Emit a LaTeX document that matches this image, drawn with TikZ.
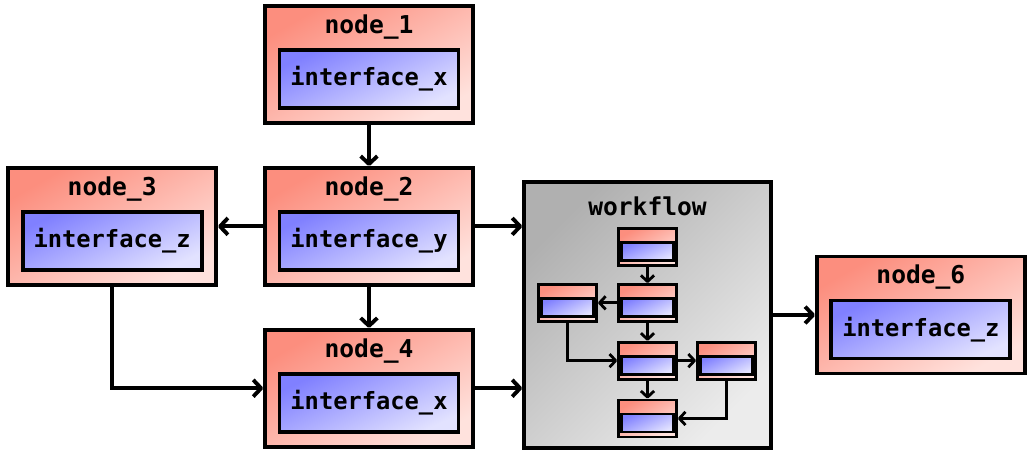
\documentclass[tikz,border=0pt]{standalone}
\usepackage{fontspec}
\setmonofont{DejaVu Sans Mono}
\usetikzlibrary{arrows.meta,positioning}
\definecolor{boxred}{RGB}{252,142,126}
\definecolor{boxpink}{RGB}{255,226,221}
\definecolor{ifblue}{RGB}{128,128,255}
\definecolor{iflight}{RGB}{226,226,255}
\definecolor{wfgray}{RGB}{176,176,176}
\definecolor{wflight}{RGB}{236,236,236}

\begin{document}
\begin{tikzpicture}[
  node distance = 0.82cm and 0.9cm,
  block/.style = {
    rectangle, draw=black, line width=2.2pt,
    top color=boxred, bottom color=boxpink, shading angle=30,
    minimum width=4.16cm, minimum height=2.34cm
  },
  iface/.style = {
    rectangle, draw=black, line width=2.2pt,
    top color=ifblue, bottom color=iflight, shading angle=25,
    minimum width=3.58cm, minimum height=1.16cm,
    font=\fontsize{13.5}{16}\selectfont\ttfamily\bfseries
  },
  title/.style = {font=\fontsize{14}{16}\selectfont\ttfamily\bfseries, inner sep=0pt},
  wfbox/.style = {
    rectangle, draw=black, line width=2.2pt,
    top color=wfgray, bottom color=wflight, shading angle=45,
    minimum width=4.94cm, minimum height=5.32cm
  },
  mini/.style = {
    rectangle, draw=black, line width=1.6pt,
    top color=boxred, bottom color=boxpink, shading angle=30,
    minimum width=1.16cm, minimum height=0.74cm
  },
  miniif/.style = {
    rectangle, draw=black, line width=1.6pt,
    top color=ifblue, bottom color=iflight, shading angle=25,
    minimum width=1.04cm, minimum height=0.36cm, inner sep=0pt
  },
  arr/.style = {-{Straight Barb[length=4.5pt,width=9.5pt,line join=round]}, line width=2.2pt},
  smallarr/.style = {-{Straight Barb[length=3.5pt,width=7.5pt,line join=round]}, line width=1.6pt}
]
  \useasboundingbox (0,0) rectangle (20.7,-9.14);

  % outer blocks
  \node[block] (n1) at (7.38,-1.29) {};
  \node[block, below=of n1] (n2) {};
  \node[block, left=of n2]  (n3) {};
  \node[block, below=of n2] (n4) {};
  \node[wfbox] (wf) at (12.95,-6.3) {};
  \node[block, right=0.84cm of wf] (n6) {};

  \node[title] (t1) at ([yshift=0.75cm]n1.center) {node\_1};
  \node[title] (t2) at ([yshift=0.75cm]n2.center) {node\_2};
  \node[title] (t3) at ([yshift=0.75cm]n3.center) {node\_3};
  \node[title] (t4) at ([yshift=0.75cm]n4.center) {node\_4};
  \node[title] (t6) at ([yshift=0.75cm]n6.center) {node\_6};
  \node[title] (tw) at ([yshift=2.18cm]wf.center) {workflow};

  \node[iface] (i1) at ([yshift=-0.29cm]n1.center) {interface\_x};
  \node[iface] (i2) at ([yshift=-0.29cm]n2.center) {interface\_y};
  \node[iface] (i3) at ([yshift=-0.29cm]n3.center) {interface\_z};
  \node[iface] (i4) at ([yshift=-0.29cm]n4.center) {interface\_x};
  \node[iface] (i6) at ([yshift=-0.29cm]n6.center) {interface\_z};

  % workflow contents
  \node[mini] (w1) at (12.95,-4.94) {};
  \node[mini, below=0.32cm of w1] (w2) {};
  \node[mini, left=0.38cm of w2]  (w3) {};
  \node[mini, below=0.36cm of w2] (w4) {};
  \node[mini, right=0.36cm of w4] (w5) {};
  \node[mini, below=0.36cm of w4] (w6) {};

  \node[miniif] (m1) at ([yshift=-0.09cm]w1.center) {};
  \node[miniif] (m2) at ([yshift=-0.09cm]w2.center) {};
  \node[miniif] (m3) at ([yshift=-0.09cm]w3.center) {};
  \node[miniif] (m4) at ([yshift=-0.09cm]w4.center) {};
  \node[miniif] (m5) at ([yshift=-0.09cm]w5.center) {};
  \node[miniif] (m6) at ([yshift=-0.09cm]w6.center) {};

  % connections
  \draw[arr] (n1) -- (n2);
  \draw[arr] (n2.west) -- (n2.west -| n3.east);
  \draw[arr] (n2.east) -- (n2.east -| wf.west);
  \draw[arr] (n2) -- (n4);
  \draw[arr] (n3.south) |- (n4.west);
  \draw[arr] (n4.east) -- (n4.east -| wf.west);
  \draw[arr] (wf) -- (n6);

  \draw[smallarr] (w1) -- (w2);
  \draw[smallarr] (w2) -- (w3);
  \draw[smallarr] (w2) -- (w4);
  \draw[smallarr] (w3.south) |- (w4.west);
  \draw[smallarr] (w4) -- (w5);
  \draw[smallarr] (w4) -- (w6);
  \draw[smallarr] (w5.south) |- (w6.east);
\end{tikzpicture}
\end{document}
